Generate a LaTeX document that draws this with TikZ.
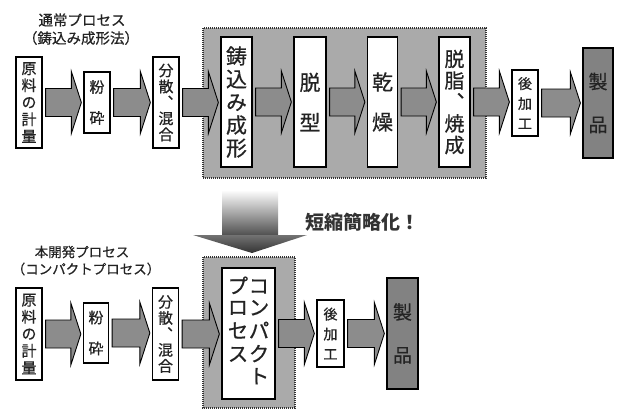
\documentclass[tikz,border=0pt]{standalone}
\usepackage{fontspec}
\newfontfamily\jp[FakeBold=0.6]{Noto Sans CJK JP}
\newfontfamily\jpv[RawFeature=+vert,FakeBold=0.6]{Noto Sans CJK JP}
\newfontfamily\jpb{Noto Sans CJK JP}
\usetikzlibrary{calc}
\definecolor{boxgray}{RGB}{170,170,170}
\definecolor{arrgray}{RGB}{140,140,140}
\definecolor{prodgray}{RGB}{130,130,130}
\definecolor{txtdark}{RGB}{35,35,35}
\tikzset{
  procbox/.style={draw=black, line width=1.3pt, fill=white, inner sep=0pt, align=center, text=txtdark},
  prodbox/.style={procbox, fill=prodgray},
  zone/.style={draw=black!80, line width=1.4pt, dash pattern=on 1pt off 1pt, fill=boxgray},
  barrow/.style={draw=black, line width=0.9pt, fill=arrgray, line join=miter},
  title/.style={inner sep=0pt, text=txtdark, font=\jp\fontsize{14.5}{16}\selectfont},
}
\newcommand\blockarrow[2]{%
  \path[barrow] let \p1=(#1.east), \p2=(#2.west) in
    (\x1+3pt,\y1+14pt) -- (\x2-12pt,\y1+14pt) -- (\x2-12pt,\y1+31pt) -- (\x2-2pt,\y1)
    -- (\x2-12pt,\y1-31pt) -- (\x2-12pt,\y1-14pt) -- (\x1+3pt,\y1-14pt) -- cycle;}
\begin{document}
\begin{tikzpicture}[x=1pt,y=-1pt]
\useasboundingbox (0,0) rectangle (617,410);
% zones
\path[zone] (203,28) rectangle (486,178);
\path[zone] (203,257) rectangle (295,408);
% titles
\node[title] (t1) at (82,20) {通常プロセス};
\node[title] (t1b) at (81,38) {（鋳込み成形法）};
\node[title, font=\jp\fontsize{13.5}{15}\selectfont] (t2) at (82,252) {本開発プロセス};
\node[title, font=\jp\fontsize{13.5}{15}\selectfont] (t2b) at (86,269) {（コンパクトプロセス）};
% top row
\node[procbox, minimum width=26, minimum height=91, font=\jpv\fontsize{15}{17}\selectfont] (r1) at (29,102.5) {原\\料\\の\\計\\量};
\node[procbox, minimum width=26, minimum height=61, font=\jpv\fontsize{15}{31}\selectfont] (m1) at (97,102.5) {粉\\砕};
\node[procbox, minimum width=26, minimum height=91, font=\jpv\fontsize{15}{16}\selectfont] (d1) at (166,102.5) {分\\散\\、\\混\\合};
\node[procbox, minimum width=31, minimum height=130, font=\jpv\fontsize{21}{23}\selectfont] (c1) at (236.5,102) {鋳\\込\\み\\成\\形};
\node[procbox, minimum width=32, minimum height=130, font=\jpv\fontsize{21}{40}\selectfont] (dm) at (310,102) {脱\\型};
\node[procbox, minimum width=30, minimum height=130, font=\jpv\fontsize{21}{40}\selectfont] (dr) at (382.5,102) {乾\\燥};
\node[procbox, minimum width=31, minimum height=130, font=\jpv\fontsize{20}{21.5}\selectfont] (ds) at (454.5,102) {脱\\脂\\、\\焼\\成};
\node[procbox, minimum width=26, minimum height=66, font=\jpv\fontsize{14}{20}\selectfont] (pp1) at (525,103) {後\\加\\工};
\node[prodbox, minimum width=30, minimum height=110, font=\jpv\fontsize{19}{43}\selectfont] (pr1) at (598,103) {製\\品};
\blockarrow{r1}{m1}
\blockarrow{m1}{d1}
\blockarrow{d1}{c1}
\blockarrow{c1}{dm}
\blockarrow{dm}{dr}
\blockarrow{dr}{ds}
\blockarrow{ds}{pp1}
\blockarrow{pp1}{pr1}
% big arrow
\shade[top color=white, bottom color=black!70] (222,190) rectangle (278,236);
\shade[top color=black!55, bottom color=black!80] (193,235) -- (307,235) -- (252,253) -- cycle;
\node[inner sep=0pt, text=black!80, font=\jpb\bfseries\fontsize{19}{21}\selectfont] (sh) at (362,222) {短縮簡略化！};
% bottom row
\node[procbox, minimum width=26, minimum height=92, font=\jpv\fontsize{15}{17}\selectfont] (r2) at (29,334) {原\\料\\の\\計\\量};
\node[procbox, minimum width=25, minimum height=60, font=\jpv\fontsize{15}{31}\selectfont] (m2) at (96,333) {粉\\砕};
\node[procbox, minimum width=26, minimum height=92, font=\jpv\fontsize{15}{16}\selectfont] (d2) at (165.5,334) {分\\散\\、\\混\\合};
\node[procbox, minimum width=53, minimum height=131, font=\jpv\fontsize{21}{21.5}\selectfont] (cp) at (248.5,333.5)
  {\begin{tabular}{@{}c@{\hspace{0pt}}c@{}}プ&コ\\ロ&ン\\セ&パ\\ス&ク\\&ト\end{tabular}};
\node[procbox, minimum width=27, minimum height=67, font=\jpv\fontsize{14}{20}\selectfont] (pp2) at (330.5,333.5) {後\\加\\工};
\node[prodbox, minimum width=31, minimum height=111, font=\jpv\fontsize{19}{43}\selectfont] (pr2) at (402.5,333.5) {製\\品};
\blockarrow{r2}{m2}
\blockarrow{m2}{d2}
\blockarrow{d2}{cp}
\blockarrow{cp}{pp2}
\blockarrow{pp2}{pr2}
\end{tikzpicture}
\end{document}
